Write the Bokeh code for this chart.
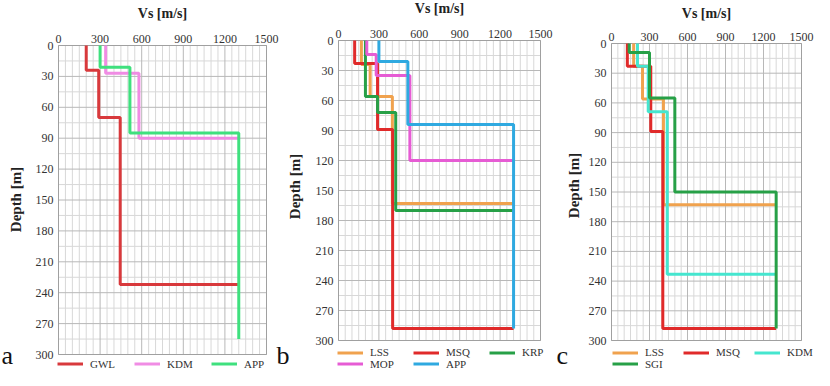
from math import pi
from bokeh.plotting import figure
from bokeh.models import Range1d, Legend, LegendItem, Label
from bokeh.core.properties import value
from bokeh.embed import file_html
from bokeh.resources import INLINE

# ---------------- data ----------------
vs_ticks = [0, 300, 600, 900, 1200, 1500]
vs_tick_labels = ["0", "300", "600", "900", "1200", "1500"]
vs_minor = [50, 100, 150, 200, 250, 350, 400, 450, 500, 550, 650, 700, 750,
            800, 850, 950, 1000, 1050, 1100, 1150, 1250, 1300, 1350, 1400, 1450]
depth_ticks = [0, 30, 60, 90, 120, 150, 180, 210, 240, 270, 300]
depth_tick_labels = ["0", "30", "60", "90", "120", "150", "180", "210", "240", "270", "300"]
depth_minor = [15, 45, 75, 105, 135, 165, 195, 225, 255, 285]
x_title = "Vs [m/s]"
y_title = "Depth [m]"
VS_MAX = 1500
DEPTH_MAX = 300

# panel a : layer velocities (m/s) and layer boundary depths (m)
a_gwl_vs = [200, 290, 445, 1300]
a_gwl_depth = [0, 24, 70, 232, 232]
a_kdm_vs = [340, 580, 1300]
a_kdm_depth = [0, 27, 90, 90]
a_app_vs = [300, 515, 1300]
a_app_depth = [0, 21, 85, 285]

# panel b
b_lss_vs = [170, 235, 400, 1300]
b_lss_depth = [0, 24, 56, 163, 163]
b_msq_vs = [120, 290, 402, 1300]
b_msq_depth = [0, 23, 89, 288, 288]
b_krp_vs = [200, 290, 425, 1300]
b_krp_depth = [0, 56, 72, 170, 170]
b_mop_vs = [210, 280, 530, 1300]
b_mop_depth = [0, 14, 35, 120, 120]
b_app_vs = [300, 515, 1300]
b_app_depth = [0, 21, 84, 288]

# panel c
c_lss_vs = [175, 245, 410, 1300]
c_lss_depth = [0, 23, 56, 163, 163]
c_msq_vs = [125, 310, 405, 1300]
c_msq_depth = [0, 23, 89, 288, 288]
c_kdm_vs = [205, 290, 440, 1300]
c_kdm_depth = [0, 23, 69, 233, 233]
c_sgi_vs = [140, 300, 500, 1300]
c_sgi_depth = [0, 9, 55, 150, 288]

SERIF = "Times New Roman, Liberation Serif, serif"
W, H = 814, 370          # canvas size; page origin of canvas is (8, 8)
OX, OY = 8, 8

RED_A = "#d8393c"
PINK_A = "#f08ce4"
GREEN_A = "#3fe07e"
ORANGE = "#f0a24e"
RED = "#e02a2a"
DGREEN = "#27a047"
MAGENTA = "#e65cd4"
BLUE = "#2fa9e0"
CYAN = "#45e6cf"

p = figure(width=W, height=H, x_range=Range1d(0, W), y_range=Range1d(H, 0),
           x_axis_location=None, y_axis_location=None, toolbar_location=None,
           min_border=0, output_backend="svg")
p.outline_line_color = None
p.background_fill_color = "white"
p.border_fill_color = "white"
p.xgrid.visible = False
p.ygrid.visible = False


def step_path(vs, depth):
    xs, ys = [], []
    for i, v in enumerate(vs):
        xs += [v, v]
        ys += [depth[i], depth[i + 1]]
    return xs, ys


def add_panel(key, px0, px1, py0, py1, profiles, legend_rows, letter,
              title_py, depth_px, depth_py):
    """px0/px1, py0/py1: page-pixel edges of the panel's plotting area."""
    kx = (px1 - px0) / VS_MAX
    x_start = -(px0 - OX) / kx
    p.extra_x_ranges[key] = Range1d(x_start, x_start + W / kx)
    ky = (py1 - py0) / DEPTH_MAX
    y_top = -(py0 - OY) / ky
    p.extra_y_ranges[key] = Range1d(y_top + H / ky, y_top)
    kw = dict(x_range_name=key, y_range_name=key)

    # grid (minor, then major) and frame
    p.segment(x0=vs_minor, x1=vs_minor, y0=[0] * len(vs_minor),
              y1=[DEPTH_MAX] * len(vs_minor), line_color="#d8d8d8", line_width=1, **kw)
    p.segment(x0=[0] * len(depth_minor), x1=[VS_MAX] * len(depth_minor),
              y0=depth_minor, y1=depth_minor, line_color="#d8d8d8", line_width=1, **kw)
    p.segment(x0=vs_ticks, x1=vs_ticks, y0=[0] * len(vs_ticks),
              y1=[DEPTH_MAX] * len(vs_ticks), line_color="#b8b8b8", line_width=1, **kw)
    p.segment(x0=[0] * len(depth_ticks), x1=[VS_MAX] * len(depth_ticks),
              y0=depth_ticks, y1=depth_ticks, line_color="#b8b8b8", line_width=1, **kw)
    p.quad(left=[0], right=[VS_MAX], top=[0], bottom=[DEPTH_MAX], fill_color=None,
           line_color="#a0a0a0", line_width=1, **kw)

    # tick labels
    p.text(x=vs_ticks, y=[0] * len(vs_ticks), text=vs_tick_labels, y_offset=-3,
           text_align="center", text_baseline="bottom", text_font=value(SERIF),
           text_font_size=value("12px"), text_color="#333333", **kw)
    p.text(x=[0] * len(depth_ticks), y=depth_ticks, text=depth_tick_labels, x_offset=-5,
           text_align="right", text_baseline="middle", text_font=value(SERIF),
           text_font_size=value("12px"), text_color="#333333", **kw)

    rends = {}
    for name, vs, dep, col in profiles:
        xs, ys = step_path(vs, dep)
        rends[name] = p.line(xs, ys, line_color=col, line_width=3, **kw)

    for items, lx, l_bottom, step in legend_rows:
        lg = Legend(items=[LegendItem(label=n, renderers=[rends[n]]) for n in items],
                    orientation="horizontal",
                    location=(lx - OX, H - (l_bottom - OY)),
                    glyph_width=26, glyph_height=11, label_height=11,
                    label_standoff=7, label_width=step - 33, spacing=0,
                    padding=0, margin=0, border_line_color=None,
                    background_fill_alpha=0, label_text_font=SERIF,
                    label_text_font_size="11px", label_text_color="#333333")
        p.add_layout(lg)

    p.add_layout(Label(x=(px0 + px1) / 2 - OX, y=title_py - OY, text=x_title,
                       text_font=SERIF, text_font_size="14px", text_font_style="bold",
                       text_align="center", text_baseline="middle", text_color="#222222"))
    p.add_layout(Label(x=depth_px - OX, y=depth_py - OY, text=y_title, angle=pi / 2,
                       text_font=SERIF, text_font_size="15px", text_font_style="bold",
                       text_align="center", text_baseline="middle", text_color="#222222"))
    p.add_layout(Label(x=letter[1] - OX, y=H - 0.5, text=letter[0], text_font=SERIF,
                       text_font_size="26px", text_align="left", text_baseline="bottom",
                       text_color="#111111"))


add_panel("a", 66, 274, 53, 362,
          [("GWL", a_gwl_vs, a_gwl_depth, RED_A),
           ("KDM", a_kdm_vs, a_kdm_depth, PINK_A),
           ("APP", a_app_vs, a_app_depth, GREEN_A)],
          [(["GWL", "KDM", "APP"], 65, 377.5, 77)],
          ("a", 9), 21, 23, 207)

add_panel("b", 346, 548, 48, 348,
          [("LSS", b_lss_vs, b_lss_depth, ORANGE),
           ("MSQ", b_msq_vs, b_msq_depth, RED),
           ("KRP", b_krp_vs, b_krp_depth, DGREEN),
           ("MOP", b_mop_vs, b_mop_depth, MAGENTA),
           ("APP", b_app_vs, b_app_depth, BLUE)],
          [(["LSS", "MSQ", "KRP"], 345, 366, 76),
           (["MOP", "APP"], 345, 377.5, 76)],
          ("b", 284), 16, 302, 194)

add_panel("c", 619, 809, 51, 348,
          [("LSS", c_lss_vs, c_lss_depth, ORANGE),
           ("MSQ", c_msq_vs, c_msq_depth, RED),
           ("KDM", c_kdm_vs, c_kdm_depth, CYAN),
           ("SGI", c_sgi_vs, c_sgi_depth, DGREEN)],
          [(["LSS", "MSQ", "KDM"], 620, 366, 71),
           (["SGI"], 620, 377.5, 71)],
          ("c", 564), 21, 581, 193)

open("out.html", "w").write(file_html(p, INLINE))
